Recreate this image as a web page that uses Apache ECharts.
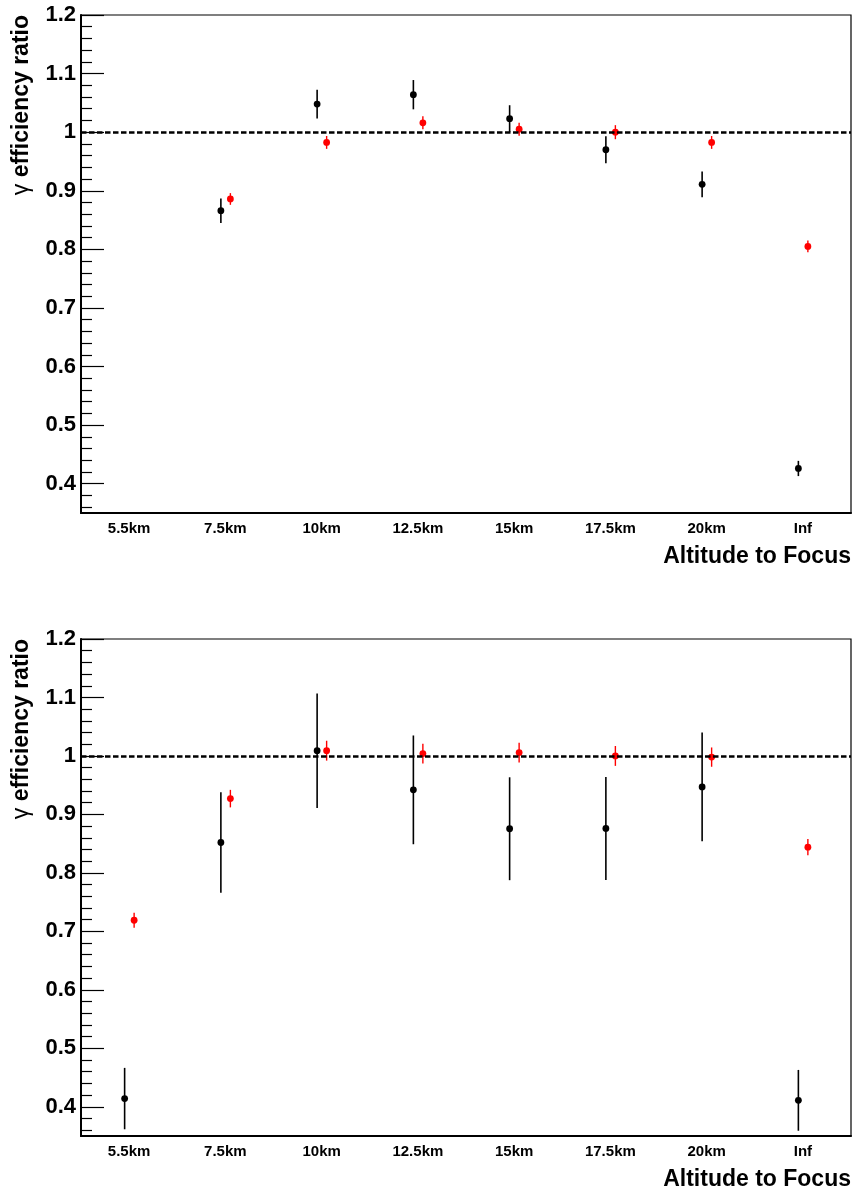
<!DOCTYPE html>
<html>
<head>
<meta charset="utf-8">
<script src="https://cdn.jsdelivr.net/npm/echarts@6/dist/echarts.min.js"></script>
<style>
html,body{margin:0;padding:0;background:#fff;}
#chart{width:855px;height:1191px;}
</style>
</head>
<body>
<div id="chart"></div>
<script>
const categories = ['5.5km','7.5km','10km','12.5km','15km','17.5km','20km','Inf'];
const yTickValues = [0.4,0.5,0.6,0.7,0.8,0.9,1,1.1,1.2];
const yMinorTickValues = [0.36,0.38,0.42,0.44,0.46,0.48,0.52,0.54,0.56,0.58,0.62,0.64,0.66,0.68,
  0.72,0.74,0.76,0.78,0.82,0.84,0.86,0.88,0.92,0.94,0.96,0.98,1.02,1.04,1.06,1.08,1.12,1.14,1.16,1.18];

// Top panel
const topBlack    = [null, 0.866, 1.048, 1.064, 1.023, 0.970, 0.911, 0.426];
const topBlackErr = [null, 0.021, 0.0245, 0.025, 0.023, 0.023, 0.022, 0.013];
const topRed      = [null, 0.886, 0.9825, 1.016, 1.005, 1.000, 0.9825, 0.805];
const topRedErr   = [null, 0.010, 0.011, 0.011, 0.011, 0.012, 0.011, 0.010];
// Bottom panel
const botBlack    = [0.414, 0.852, 1.009, 0.942, 0.8755, 0.876, 0.947, 0.411];
const botBlackErr = [0.0525, 0.086, 0.098, 0.093, 0.088, 0.088, 0.093, 0.052];
const botRed      = [0.719, 0.927, 1.009, 1.004, 1.0057, 1.000, 0.998, 0.844];
const botRedErr   = [0.013, 0.015, 0.017, 0.017, 0.017, 0.017, 0.0165, 0.014];

const refLine = 1.0;
const FONT = '"Liberation Sans", Arial, Helvetica, sans-serif';

function toData(vals, errs) {
  const out = [];
  vals.forEach((v, i) => { if (v !== null) out.push([i, v, errs[i]]); });
  return out;
}

function makeRender(dx, color, lw) {
  return function (params, api) {
    const i = api.value(0), v = api.value(1), e = api.value(2);
    const c = api.coord([i, v]);
    const hi = api.coord([i, v + e]);
    const lo = api.coord([i, v - e]);
    const x = c[0] + dx;
    return {
      type: 'group',
      children: [
        { type: 'line', shape: { x1: x, y1: hi[1], x2: x, y2: lo[1] }, style: { stroke: color, lineWidth: lw } },
        { type: 'circle', shape: { cx: x, cy: c[1], r: 3.4 }, style: { fill: color } }
      ]
    };
  };
}

const grids = [
  { left: 81, top: 15, width: 770, height: 498 },
  { left: 81, top: 639, width: 770, height: 499 }
];

const xAxes = [], yAxes = [], series = [];
grids.forEach((g, gi) => {
  xAxes.push({
    type: 'category', gridIndex: gi, data: categories, boundaryGap: true,
    axisLine: { lineStyle: { color: '#000', width: 2 } },
    axisTick: { inside: true, length: 15, lineStyle: { color: '#000', width: 1.2 } },
    axisLabel: { fontFamily: FONT, fontWeight: 'bold', fontSize: 15, color: '#000', margin: 8 },
    splitLine: { show: false },
    name: 'Altitude to Focus', nameLocation: 'end', nameGap: 0,
    nameTextStyle: { fontFamily: FONT, fontWeight: 'bold', fontSize: 23, color: '#000',
      align: 'right', verticalAlign: 'top', padding: [32, 0, 0, 0] }
  });
  yAxes.push({
    type: 'value', gridIndex: gi, min: 0.35, max: 1.2,
    axisLine: { show: true, lineStyle: { color: '#000', width: 2 } },
    axisTick: { show: true, inside: true, length: 23, customValues: yTickValues, lineStyle: { color: '#000', width: 1.2 } },
    axisLabel: { fontFamily: FONT, fontWeight: 'bold', fontSize: 22, color: '#000', margin: 5, customValues: yTickValues },
    splitLine: { show: false },
    name: '{g|γ} efficiency ratio', nameLocation: 'end', nameGap: 0, nameRotate: 90,
    nameTextStyle: { fontFamily: FONT, fontWeight: 'bold', fontSize: 23, color: '#000',
      align: 'right', verticalAlign: 'bottom', padding: [0, 0, 48, 0],
      rich: { g: { fontFamily: FONT, fontWeight: 'normal', fontSize: 23, color: '#000' } } }
  });
  yAxes.push({
    type: 'value', gridIndex: gi, min: 0.35, max: 1.2, position: 'left',
    axisLine: { show: false },
    axisTick: { show: true, inside: true, length: 11, customValues: yMinorTickValues, lineStyle: { color: '#000', width: 1.2 } },
    axisLabel: { show: false },
    splitLine: { show: false }
  });
});

const panels = [
  { black: toData(topBlack, topBlackErr), red: toData(topRed, topRedErr) },
  { black: toData(botBlack, botBlackErr), red: toData(botRed, botRedErr) }
];

panels.forEach((p, gi) => {
  series.push({
    type: 'line', xAxisIndex: gi, yAxisIndex: gi * 2, data: [], silent: true,
    markLine: {
      silent: true, symbol: 'none', animation: false,
      label: { show: false },
      lineStyle: { color: '#000', width: 2.5, type: [5.5, 2.5] },
      data: [{ yAxis: refLine }]
    }
  });
  series.push({
    type: 'custom', name: 'black' + gi, xAxisIndex: gi, yAxisIndex: gi * 2,
    data: p.black, encode: { x: 0, y: 1 }, renderItem: makeRender(-4.5, '#000', 1.6), z: 3
  });
  series.push({
    type: 'custom', name: 'red' + gi, xAxisIndex: gi, yAxisIndex: gi * 2,
    data: p.red, encode: { x: 0, y: 1 }, renderItem: makeRender(5, '#ff0000', 1.4), z: 4
  });
});

const chart = echarts.init(document.getElementById('chart'), null, { renderer: 'canvas' });
chart.setOption({
  backgroundColor: '#fff',
  animation: false,
  grid: grids.map(g => Object.assign({ show: true, borderColor: '#000', borderWidth: 1.2, backgroundColor: 'transparent' }, g)),
  xAxis: xAxes,
  yAxis: yAxes,
  series: series
});
</script>
</body>
</html>
